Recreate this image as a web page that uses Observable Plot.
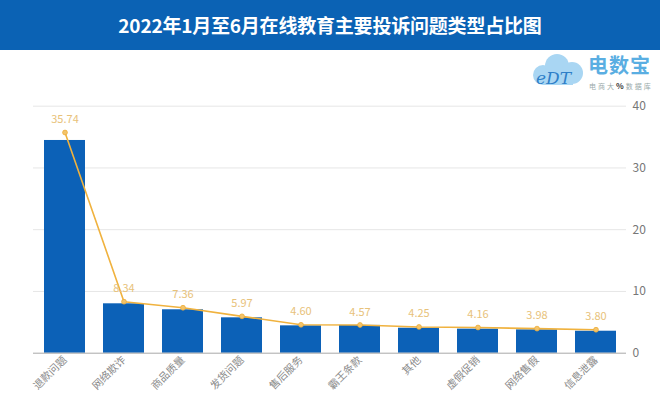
<!DOCTYPE html>
<html>
<head>
<meta charset="utf-8">
<script src="https://cdn.jsdelivr.net/npm/d3@7"></script>
<script src="https://cdn.jsdelivr.net/npm/@observablehq/plot@0.6"></script>
<style>
  html, body { margin: 0; padding: 0; background: #fff; }
  #wrap { position: relative; width: 660px; height: 411px; overflow: hidden; font-family: "Noto Sans CJK SC", "Noto Sans", sans-serif; }
  #title { height: 50px; line-height: 50px; background: #0b62b4; color: #fff; font-weight: bold; font-size: 19px; text-align: center; letter-spacing: -0.2px; }
  #logo { position: absolute; left: 530px; top: 52px; width: 130px; height: 40px; }
  #logo .name { position: absolute; left: 58px; top: 2px; font-size: 20px; font-weight: bold; color: #5aaee2; letter-spacing: 1px; line-height: 22px; }
  #logo .sub { position: absolute; left: 59px; top: 29px; font-size: 7px; color: #9aa; letter-spacing: 2px; line-height: 9px; }
  #logo .sub b { color: #333; font-size: 8px; }
  #chart { position: absolute; left: 0; top: 50px; }
</style>
</head>
<body>
<div id="wrap">
  <div id="title">2022年1月至6月在线教育主要投诉问题类型占比图</div>
  <div id="chart"></div>
  <div id="logo">
    <svg width="56" height="36" viewBox="0 0 56 36">
      <circle cx="13" cy="23" r="10" fill="#a9d6f3"/>
      <circle cx="27" cy="14" r="12" fill="#a9d6f3"/>
      <circle cx="42" cy="21" r="11" fill="#a9d6f3"/>
      <rect x="13" y="20" width="30" height="13" fill="#a9d6f3"/>
      <text x="6" y="32" font-family="DejaVu Serif, serif" font-size="17" fill="#2e7fc8" font-style="italic">eDT</text>
    </svg>
    <div class="name">电数宝</div>
    <div class="sub">电商大<b>%</b>数据库</div>
  </div>
</div>
<script>
const categories = ["退款问题","网络欺诈","商品质量","发货问题","售后服务","霸王条款","其他","虚假促销","网络售假","信息泄露"];
const lineValues = [35.74, 8.34, 7.36, 5.97, 4.60, 4.57, 4.25, 4.16, 3.98, 3.80];
const barValues = [34.45, 8.0, 7.03, 5.73, 4.43, 4.5, 4.05, 3.9, 3.78, 3.56];
const yTicks = [0, 10, 20, 30, 40];

const rows = categories.map((c, i) => ({cat: c, bar: barValues[i], val: lineValues[i]}));

const chart = Plot.plot({
  width: 660,
  height: 361,
  marginLeft: 33,
  marginRight: 34,
  marginTop: 55.7,
  marginBottom: 58.3,
  style: {fontFamily: '"Noto Sans CJK SC", "Noto Sans", sans-serif', background: "transparent"},
  x: {domain: categories, paddingInner: 0.31, paddingOuter: 0.155, label: null},
  y: {domain: [0, 40], label: null},
  marks: [
    Plot.gridY(yTicks.filter(d => d > 0), {stroke: "#e6e6e6", strokeOpacity: 1}),
    Plot.barY(rows, {x: "cat", y: "bar", fill: "#0c61b7"}),
    Plot.ruleY([0], {stroke: "#a8a8a8"}),
    Plot.lineY(rows, {x: "cat", y: "val", stroke: "#f0b23e", strokeWidth: 1.6}),
    Plot.dot(rows, {x: "cat", y: "val", r: 2.4, fill: "#f3c46a", stroke: "#eeac38", strokeWidth: 0.8}),
    Plot.text(rows, {x: "cat", y: "val", text: d => d.val.toFixed(2), dy: -13, fill: "#e8c27a", fontSize: 11}),
    Plot.axisY({anchor: "right", ticks: yTicks, tickSize: 0, tickPadding: 6, fontSize: 12, fill: "#777", label: null}),
    Plot.axisX({tickRotate: -45, tickSize: 0, tickPadding: 5, fontSize: 10.5, fill: "#8a8a8a", label: null})
  ]
});
document.getElementById("chart").appendChild(chart);
</script>
</body>
</html>
